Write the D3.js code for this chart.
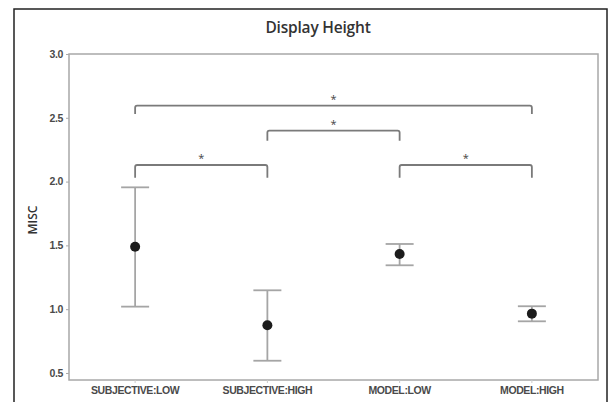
<!DOCTYPE html>
<html><head><meta charset="utf-8">
<script src="https://cdn.jsdelivr.net/npm/d3@7"></script>
<style>
html,body{margin:0;padding:0;background:#fff;}
svg{display:block;font-family:"Open Sans",sans-serif;}
</style></head>
<body><svg id="c" width="610" height="402"></svg>
<script>
const categories = ["SUBJECTIVE:LOW","SUBJECTIVE:HIGH","MODEL:LOW","MODEL:HIGH"];
const means = [1.49, 0.874, 1.433, 0.965];
const upper = [1.955, 1.148, 1.511, 1.023];
const lower = [1.02, 0.596, 1.344, 0.905];
const yTicks = [0.5, 1.0, 1.5, 2.0, 2.5, 3.0];
// significance brackets: from category, to category, level, leg end level, label
const bracketFrom = [0, 1, 0, 2];
const bracketTo   = [3, 2, 1, 3];
const bracketLevel = [2.595, 2.40, 2.13, 2.13];
const bracketLegEnd = [2.53, 2.32, 2.03, 2.03];
const bracketLabel = ["*", "*", "*", "*"];

const svg = d3.select("#c");
const m = {l:69, r:598, t:54, b:380};

// outer frame
svg.append("rect").attr("x",14).attr("y",9).attr("width",593).attr("height",400)
  .attr("fill","none").attr("stroke","#222").attr("stroke-width",1.5);

const x = d3.scaleBand().domain(categories).range([m.l, m.r]).paddingInner(0).paddingOuter(0);
const cx = c => x(c) + x.bandwidth()/2;
const y = d3.scaleLinear().domain([0.445, 3.0]).range([m.b, m.t]);

// title
svg.append("text").attr("x",318).attr("y",33).attr("text-anchor","middle")
  .attr("font-size",15.5).attr("font-weight",600).attr("fill","#333").attr("letter-spacing",-0.2).text("Display Height");

// plot border
svg.append("rect").attr("x",m.l).attr("y",m.t).attr("width",m.r-m.l).attr("height",m.b-m.t)
  .attr("fill","none").attr("stroke","#a8a8a8").attr("stroke-width",1.5);

// y axis
const yAxis = d3.axisLeft(y).tickValues(yTicks).tickFormat(d3.format(".1f")).tickSize(3).tickPadding(3);
const gy = svg.append("g").attr("transform",`translate(${m.l},0)`).call(yAxis);
gy.select(".domain").remove();
gy.selectAll("line").attr("stroke","#aaa");
gy.selectAll("text").attr("font-size",10.5).attr("font-weight",600).attr("fill","#4a4a4a").attr("letter-spacing",-0.4);

// x axis
const xAxis = d3.axisBottom(x).tickSize(3).tickPadding(4);
const gx = svg.append("g").attr("transform",`translate(0,${m.b})`).call(xAxis);
gx.select(".domain").remove();
gx.selectAll("line").attr("stroke","#ccc");
gx.selectAll("text").attr("font-size",10.5).attr("font-weight",600).attr("fill","#4a4a4a").attr("letter-spacing",-0.4);

// y label
svg.append("text").attr("transform","translate(37,220) rotate(-90)").attr("text-anchor","middle")
  .attr("font-size",12).attr("font-weight",600).attr("fill","#333").text("MISC");

// error bars
const eb = svg.append("g").attr("stroke","#a5a5a5").attr("stroke-width",1.8);
categories.forEach((c,i)=>{
  const px = cx(c);
  eb.append("line").attr("x1",px).attr("x2",px).attr("y1",y(upper[i])).attr("y2",y(lower[i]));
  eb.append("line").attr("x1",px-14).attr("x2",px+14).attr("y1",y(upper[i])).attr("y2",y(upper[i]));
  eb.append("line").attr("x1",px-14).attr("x2",px+14).attr("y1",y(lower[i])).attr("y2",y(lower[i]));
});
svg.append("g").selectAll("circle").data(means).join("circle")
  .attr("cx",(d,i)=>cx(categories[i])).attr("cy",d=>y(d)).attr("r",5).attr("fill","#1c1c1c");

// brackets
const bg = svg.append("g");
bracketFrom.forEach((f,i)=>{
  const x1 = cx(categories[f]), x2 = cx(categories[bracketTo[i]]);
  const yl = y(bracketLevel[i]), ye = y(bracketLegEnd[i]);
  const r = 2;
  const p = `M${x1},${ye} L${x1},${yl+r} Q${x1},${yl} ${x1+r},${yl} L${x2-r},${yl} Q${x2},${yl} ${x2},${yl+r} L${x2},${ye}`;
  bg.append("path").attr("d",p).attr("fill","none").attr("stroke","#7a7a7a").attr("stroke-width",1.8);
  bg.append("text").attr("x",(x1+x2)/2).attr("y",yl-3).attr("text-anchor","middle")
    .attr("font-size",11).attr("fill","#444").text(bracketLabel[i]);
});
</script></body></html>
